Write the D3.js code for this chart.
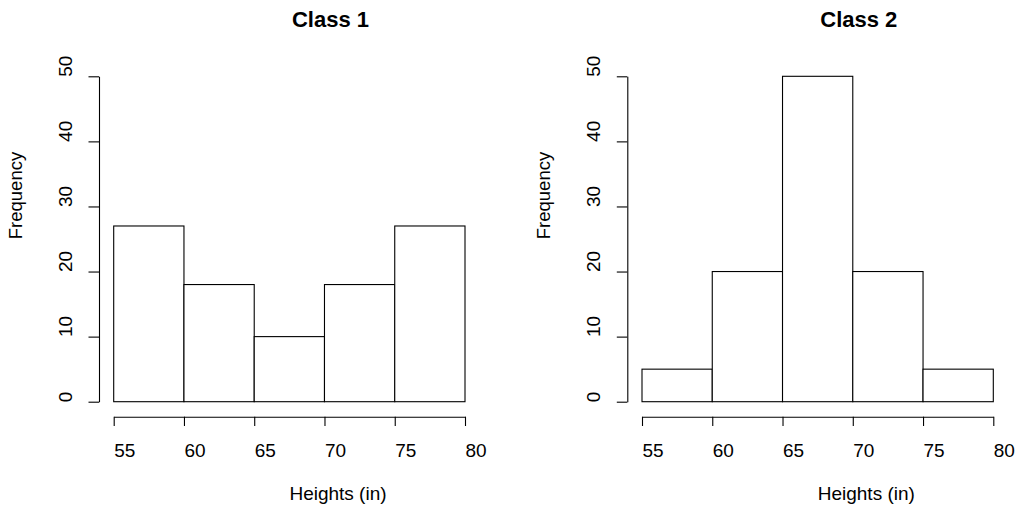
<!DOCTYPE html>
<html>
<head>
<meta charset="utf-8">
<script src="https://cdn.jsdelivr.net/npm/d3@7"></script>
<style>
  html, body { margin: 0; padding: 0; background: #fff; }
  text { font-family: "Liberation Sans", Arial, sans-serif; fill: #000; }
</style>
</head>
<body>
<svg id="chart" width="1018" height="508"></svg>
<script>
// Data
const titles = ["Class 1", "Class 2"];
const breaks = [55, 60, 65, 70, 75, 80];
const class1Counts = [27, 18, 10, 18, 27];
const class2Counts = [5, 20, 50, 20, 5];
const yTicks = [0, 10, 20, 30, 40, 50];
const xLabel = "Heights (in)";
const yLabel = "Frequency";

const svg = d3.select("#chart");
const panelOffsets = [0, 528.3];
const seriesList = [class1Counts, class2Counts];

seriesList.forEach((counts, p) => {
  const dx = panelOffsets[p];
  const g = svg.append("g").attr("transform", `translate(${dx},0)`);

  const x = d3.scaleLinear().domain([55, 80]).range([113.7, 465]);
  const y = d3.scaleLinear().domain([0, 50]).range([401.7, 76.3]);

  const bins = counts.map((c, i) => ({ x0: breaks[i], x1: breaks[i + 1], c }));

  g.selectAll("rect.bar").data(bins).join("rect")
    .attr("class", "bar")
    .attr("x", d => x(d.x0))
    .attr("y", d => y(d.c))
    .attr("width", d => x(d.x1) - x(d.x0))
    .attr("height", d => y(0) - y(d.c))
    .attr("fill", "#fff")
    .attr("stroke", "#000")
    .attr("stroke-width", 1.1);

  // x axis
  const xAxis = d3.axisBottom(x).tickValues(breaks).tickSize(9.3).tickSizeOuter(0)
    .tickFormat(d3.format("d"));
  const gx = g.append("g").attr("transform", "translate(0,416.7)").call(xAxis);
  gx.select(".domain").attr("stroke", "#000").attr("stroke-width", 1.1);
  gx.selectAll(".tick line").attr("stroke", "#000").attr("stroke-width", 1.1);
  gx.selectAll(".tick text")
    .attr("y", 40).attr("dy", 0)
    .attr("text-anchor", "start")
    .style("font-size", "19px")
    .style("font-family", "Liberation Sans, Arial, sans-serif")
    .attr("fill", "#000");

  // y axis
  const yAxis = d3.axisLeft(y).tickValues(yTicks).tickSize(10.5).tickSizeOuter(0)
    .tickFormat(d3.format("d"));
  const gy = g.append("g").attr("transform", "translate(99,0)").call(yAxis);
  gy.select(".domain").attr("stroke", "#000").attr("stroke-width", 1.1);
  gy.selectAll(".tick line").attr("stroke", "#000").attr("stroke-width", 1.1);
  gy.selectAll(".tick text")
    .attr("x", null).attr("dy", 0)
    .attr("transform", "translate(-27.3,0) rotate(-90)")
    .attr("text-anchor", "start")
    .style("font-size", "19px")
    .style("font-family", "Liberation Sans, Arial, sans-serif")
    .attr("fill", "#000");

  // title
  g.append("text")
    .attr("x", 330.5).attr("y", 26.5)
    .attr("text-anchor", "middle")
    .style("font-size", "22px")
    .style("font-weight", "bold")
    .text(titles[p]);

  // x label
  g.append("text")
    .attr("x", 338).attr("y", 500)
    .attr("text-anchor", "middle")
    .style("font-size", "19px")
    .text(xLabel);

  // y label
  g.append("text")
    .attr("transform", "translate(21.5,195.5) rotate(-90)")
    .attr("text-anchor", "middle")
    .style("font-size", "18.5px")
    .text(yLabel);
});
</script>
</body>
</html>
